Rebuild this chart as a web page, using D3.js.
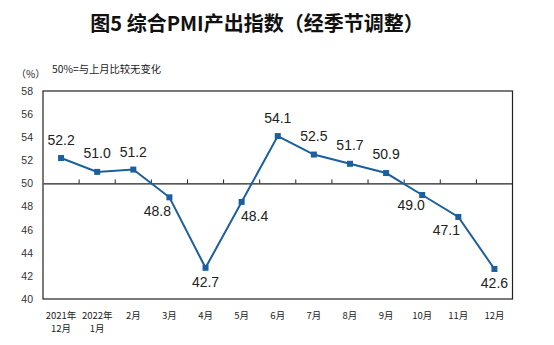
<!DOCTYPE html>
<html>
<head>
<meta charset="utf-8">
<script src="https://cdn.jsdelivr.net/npm/d3@7"></script>
<style>
  html, body { margin: 0; padding: 0; background: #fff; }
  svg { display: block; }
</style>
</head>
<body>
<svg id="chart" width="554" height="345"></svg>
<script>
// Composite PMI output index, seasonally adjusted
const months = ["2021年\n12月", "2022年\n1月", "2月", "3月", "4月", "5月", "6月", "7月", "8月", "9月", "10月", "11月", "12月"];
const pmiValues = [52.2, 51.0, 51.2, 48.8, 42.7, 48.4, 54.1, 52.5, 51.7, 50.9, 49.0, 47.1, 42.6];
const yTicks = [40, 42, 44, 46, 48, 50, 52, 54, 56, 58];
// label placement per point: [dx, dy] relative to the marker
const labelOffsets = [[0, -13], [0, -14], [0, -13], [-12, 19], [0, 19], [13, 19], [0, -13], [0, -14], [0, -14], [0, -14], [-11, 15], [-12, 18], [0, 19]];

const svg = d3.select("#chart");
const plot = { left: 43, right: 512.5, top: 91, bottom: 299 };

const x = d3.scaleBand().domain(months).range([plot.left, plot.right]).padding(0);
const y = d3.scaleLinear().domain([40, 58]).range([plot.bottom, plot.top]);
const cx = m => x(m) + x.bandwidth() / 2;

// Title
svg.append("text")
  .attr("x", 257).attr("y", 31)
  .attr("text-anchor", "middle")
  .attr("font-family", "'Noto Sans CJK SC', sans-serif")
  .attr("font-weight", "bold")
  .attr("font-size", 20)
  .attr("fill", "#111")
  .text("图5 综合PMI产出指数（经季节调整）");

// Unit and note
svg.append("text")
  .attr("x", 16).attr("y", 78)
  .attr("font-family", "'Noto Sans CJK SC', sans-serif")
  .attr("font-size", 10)
  .attr("fill", "#222")
  .text("（%）");
svg.append("text")
  .attr("x", 52).attr("y", 73)
  .attr("font-family", "'Noto Sans CJK SC', sans-serif")
  .attr("font-size", 10.3)
  .attr("fill", "#222")
  .text("50%=与上月比较无变化");

// Plot frame
svg.append("rect")
  .attr("x", plot.left).attr("y", plot.top)
  .attr("width", plot.right - plot.left).attr("height", plot.bottom - plot.top)
  .attr("fill", "none").attr("stroke", "#222").attr("stroke-width", 1.2);

// Y axis labels (no tick marks)
const yAxis = d3.axisLeft(y).tickValues(yTicks).tickSize(0).tickPadding(10);
const gy = svg.append("g").attr("transform", `translate(${plot.left},0)`).call(yAxis);
gy.select(".domain").remove();
gy.selectAll("text")
  .attr("font-family", "Arial, 'Liberation Sans', sans-serif")
  .attr("font-size", 10.5)
  .attr("fill", "#333");

// 50 reference line used as category axis, ticks pointing up
const xAxis = d3.axisTop(x).tickSize(0).tickFormat("");
const g50 = svg.append("g").attr("transform", `translate(0,${y(50)})`).call(xAxis);
g50.select(".domain").attr("stroke", "#222").attr("stroke-width", 1.2);
g50.selectAll(".tick").remove();
g50.selectAll("line.sep")
  .data(months.slice(1))
  .join("line")
  .attr("class", "sep")
  .attr("x1", m => x(m)).attr("x2", m => x(m))
  .attr("y1", 0).attr("y2", -4)
  .attr("stroke", "#222").attr("stroke-width", 1);

// Category labels under the plot
const xl = svg.append("g");
months.forEach(m => {
  const lines = m.split("\n");
  const t = xl.append("text")
    .attr("x", cx(m)).attr("y", 319)
    .attr("text-anchor", "middle")
    .attr("font-family", "'Noto Sans CJK SC', sans-serif")
    .attr("font-size", 9.5)
    .attr("fill", "#222");
  lines.forEach((s, i) => {
    t.append("tspan").attr("x", cx(m)).attr("dy", i === 0 ? 0 : 13).text(s);
  });
});

// Line and markers
const data = months.map((m, i) => ({ m, v: pmiValues[i], off: labelOffsets[i] }));
const lineColor = "#1b5f9e";
svg.append("path")
  .datum(data)
  .attr("fill", "none")
  .attr("stroke", lineColor)
  .attr("stroke-width", 2)
  .attr("d", d3.line().x(d => cx(d.m)).y(d => y(d.v)));

svg.selectAll("rect.mk")
  .data(data)
  .join("rect")
  .attr("class", "mk")
  .attr("x", d => cx(d.m) - 3).attr("y", d => y(d.v) - 3)
  .attr("width", 6).attr("height", 6)
  .attr("fill", lineColor);

// Value labels
svg.selectAll("text.val")
  .data(data)
  .join("text")
  .attr("class", "val")
  .attr("x", d => cx(d.m) + d.off[0])
  .attr("y", d => y(d.v) + d.off[1])
  .attr("text-anchor", "middle")
  .attr("font-family", "Arial, 'Liberation Sans', sans-serif")
  .attr("font-size", 14)
  .attr("fill", "#222")
  .text(d => d.v.toFixed(1));
</script>
</body>
</html>
